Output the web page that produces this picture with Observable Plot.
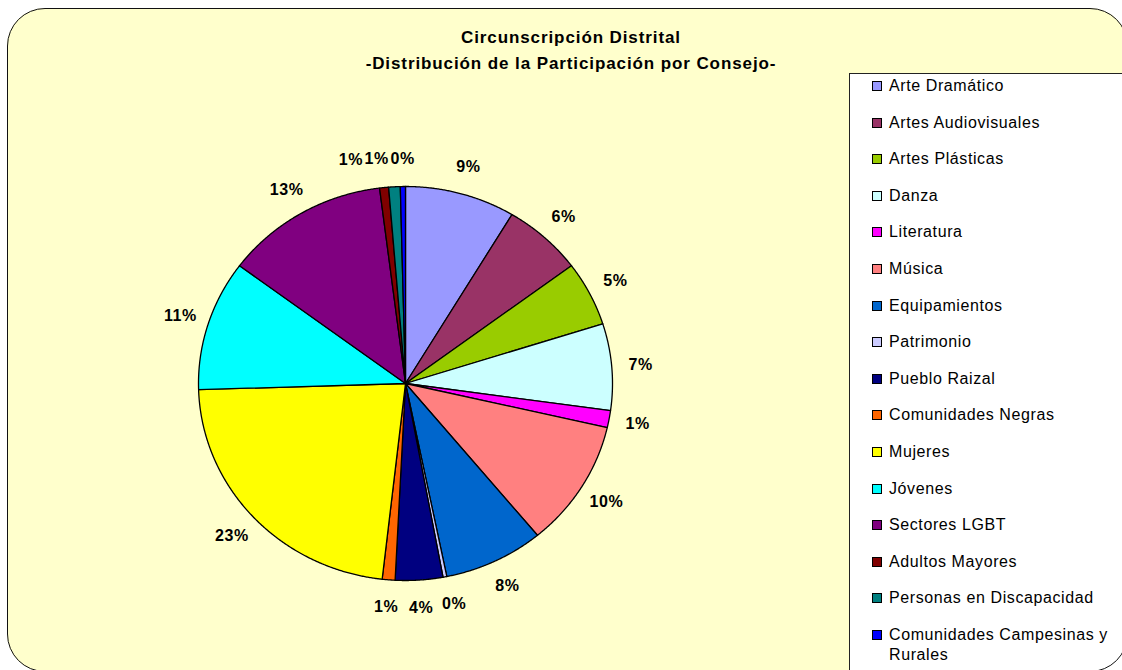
<!DOCTYPE html>
<html>
<head>
<meta charset="utf-8">
<script src="https://cdn.jsdelivr.net/npm/d3@7"></script>
<script src="https://cdn.jsdelivr.net/npm/@observablehq/plot@0.6"></script>
<style>
  html, body { margin: 0; padding: 0; background: #fff; width: 1122px; height: 670px; overflow: hidden;
    font-family: Arial, "Liberation Sans", sans-serif; }
  #bg { position: absolute; left: 7px; top: 8px; width: 1121px; height: 664px; background: #FFFFCC; border-radius: 38px; }
  #frame { position: absolute; left: 7px; top: 8px; width: 1121px; height: 664px; border: 1.5px solid #111;
    border-radius: 38px; box-sizing: border-box; pointer-events: none; z-index: 10; }
  #chart { position: absolute; left: 0; top: 0; z-index: 2; }
  #chart svg text { letter-spacing: 0.6px; }
  .title { position: absolute; left: 271px; width: 600px; text-align: center; font-weight: bold; font-size: 17px;
    line-height: 20px; letter-spacing: 0.9px; color: #000; z-index: 3; }
  #legend { position: absolute; left: 849px; top: 73px; width: 320px; height: 640px; background: #fff;
    border: 1px solid #222; z-index: 4; }
  .item { position: absolute; left: 0; width: 260px; height: 20px; }
  .sw { position: absolute; left: 22px; top: 5px; width: 8px; height: 8px; border: 1px solid #000; }
  .lab { position: absolute; left: 39px; top: 0; width: 225px; font-size: 16px; line-height: 20px;
    letter-spacing: 0.6px; color: #000; white-space: normal; }
</style>
</head>
<body>
<div id="bg"></div>
<div class="title" style="top:28px">Circunscripción Distrital</div>
<div class="title" style="top:54px">-Distribución de la Participación por Consejo-</div>
<div id="chart"></div>
<div id="legend"></div>
<div id="frame"></div>
<script>
const categories = [
  "Arte Dramático", "Artes Audiovisuales", "Artes Plásticas", "Danza", "Literatura", "Música",
  "Equipamientos", "Patrimonio", "Pueblo Raizal", "Comunidades Negras", "Mujeres", "Jóvenes",
  "Sectores LGBT", "Adultos Mayores", "Personas en Discapacidad", "Comunidades Campesinas y Rurales"
];
const values = [8.6, 6.2, 5.3, 7.1, 1.4, 10.4, 7.8, 0.3, 3.7, 1.0, 22.7, 10.7, 12.8, 0.7, 0.9, 0.4];
const colors = [
  "#9999FF", "#993366", "#99CC00", "#CCFFFF", "#FF00FF", "#FF8080",
  "#0066CC", "#CCCCFF", "#000080", "#FF6600", "#FFFF00", "#00FFFF",
  "#800080", "#800000", "#008080", "#0000FF"
];

const total = d3.sum(values);
const arcs = d3.pie().sort(null).value(d => d)(values);

// slice outlines in unit (normalized) coordinates, angle measured clockwise from 12 o'clock
const slicePts = [];
arcs.forEach((a, i) => {
  const cat = categories[i];
  slicePts.push({category: cat, x: 0, y: 0});
  const n = Math.max(2, Math.ceil((a.endAngle - a.startAngle) / 0.005));
  for (let k = 0; k <= n; k++) {
    const t = a.startAngle + (a.endAngle - a.startAngle) * k / n;
    slicePts.push({category: cat, x: Math.sin(t), y: Math.cos(t)});
  }
});

// percentage labels outside the pie
const LR = 1.14;
const labels = arcs.map((a, i) => {
  const m = (a.startAngle + a.endAngle) / 2;
  return {category: categories[i], text: Math.round(values[i] / total * 100) + "%",
          x: Math.sin(m) * LR, y: Math.cos(m) * LR, c: Math.cos(m)};
});
// simple overlap avoidance for the crowded top and bottom labels
const topLabels = labels.filter(d => d.c > 0.9).sort((a, b) => b.x - a.x);
for (let i = 1; i < topLabels.length; i++) topLabels[i].x = Math.min(topLabels[i].x, topLabels[i - 1].x - 0.125);
const botLabels = labels.filter(d => d.c < -0.9).sort((a, b) => a.x - b.x);
for (let i = 1; i < botLabels.length; i++) botLabels[i].x = Math.max(botLabels[i].x, botLabels[i - 1].x + 0.16);

const chart = Plot.plot({
  width: 1122,
  height: 670,
  margin: 0,
  x: {domain: [-1, 1], range: [198, 612], axis: null},
  y: {domain: [-1, 1], range: [580, 186], axis: null},
  color: {domain: categories, range: colors},
  style: {background: "transparent", fontFamily: "Arial, 'Liberation Sans', sans-serif", overflow: "visible"},
  marks: [
    Plot.line(slicePts, {x: "x", y: "y", z: "category", fill: "category", stroke: "#000",
      strokeWidth: 1.3, strokeLinejoin: "round", curve: "linear-closed"}),
    Plot.text(labels, {x: "x", y: "y", text: "text", fontWeight: "bold", fontSize: 16, fill: "#000",
      textAnchor: "middle", lineAnchor: "middle"})
  ]
});
document.getElementById("chart").appendChild(chart);

// legend
const legend = document.getElementById("legend");
categories.forEach((c, i) => {
  const it = document.createElement("div");
  it.className = "item";
  it.style.top = (2 + i * 36.6) + "px";
  const sw = document.createElement("div");
  sw.className = "sw";
  sw.style.background = colors[i];
  const lb = document.createElement("div");
  lb.className = "lab";
  lb.textContent = c;
  it.appendChild(sw);
  it.appendChild(lb);
  legend.appendChild(it);
});
</script>
</body>
</html>
